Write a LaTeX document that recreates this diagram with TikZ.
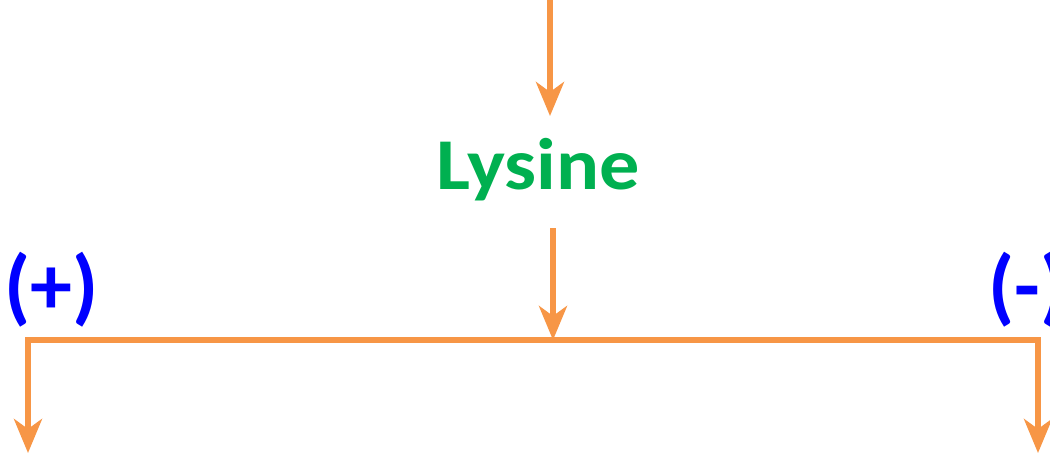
\documentclass[tikz,border=0pt]{standalone}
\usepackage{fontspec}
\setmainfont{Carlito}
\usetikzlibrary{arrows.meta}
\definecolor{arrorange}{HTML}{F79646}
\definecolor{lysgreen}{HTML}{00B050}
\definecolor{signblue}{HTML}{0000FF}
\begin{document}
\begin{tikzpicture}[x=1pt,y=-1pt,
  conn/.style={draw=arrorange, line width=5.5pt},
  arr/.style={conn, -{Stealth[length=34pt,width=28pt,inset=10pt]}},
  lab/.style={inner sep=0pt}]
\useasboundingbox (0,0) rectangle (1050,456);
\node[lab, text=lysgreen, anchor=base, xscale=1.1, font=\fontsize{73}{80}\selectfont\bfseries] (lys) at (538,189) {Lysine};
\node[lab, text=signblue, anchor=base west, font=\fontsize{84}{90}\selectfont\bfseries] (plus) at (4,314) {(+)};
\node[lab, text=signblue, anchor=base west, font=\fontsize{84}{90}\selectfont\bfseries] (minus) at (988,314) {(-)};
\coordinate (top) at (550,0);
\coordinate (topend) at (550,116);
\coordinate (mid) at (553,228);
\coordinate (junction) at (553,340);
\coordinate (lc) at (28,340);
\coordinate (rc) at (1038,340);
\coordinate (lend) at (28,453);
\coordinate (rend) at (1038,453);
\draw[arr] (top) -- (topend);
\draw[arr] (mid) -- (junction);
\draw[conn, line join=miter] (lend) ++(0,-30) -- (lc) -- (rc) -- ++(0,80);
\draw[arr] (lc) -- (lend);
\draw[arr] (rc) -- (rend);
\end{tikzpicture}
\end{document}
